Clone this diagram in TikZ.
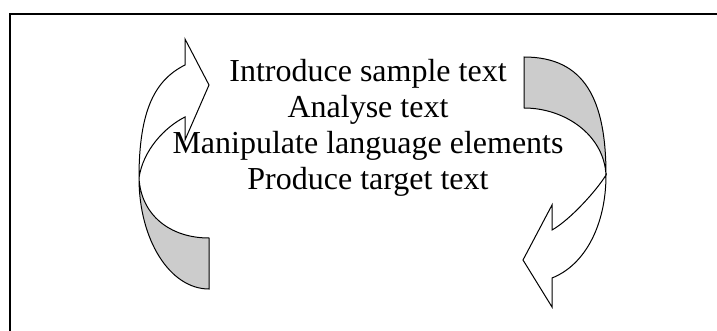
\documentclass[tikz,border=0pt]{standalone}
\usepackage{fontspec}
\setmainfont{Liberation Serif}
\begin{document}
\begin{tikzpicture}[x=1pt,y=-1pt,
  band/.style={draw=black,line width=1pt,line join=miter},
  front/.style={band,fill=white},
  back/.style={band,fill=black!20},
  frameline/.style={draw=black,line width=2pt},
  stepline/.style={font=\fontsize{32}{36}\selectfont,anchor=base,inner sep=0pt}]
\useasboundingbox (0,0) rectangle (717,331);
% frame
\draw[frameline] (9.5,332) -- (9.5,14) -- (718,14);
% text
\node[stepline] (l1) at (368,82) {Introduce sample text};
\node[stepline] (l2) at (368,118) {Analyse text};
\node[stepline] (l3) at (368,153.5) {Manipulate language elements};
\node[stepline] (l4) at (368,189.5) {Produce target text};
% left curved arrow
\coordinate (LT) at (139,178);
\path[back] (LT) .. controls (139,240) and (170,289) .. (209,289)
  -- (209,238) .. controls (170,238) and (141,215) .. (LT) -- cycle;
\path[front] (LT) .. controls (139,110) and (155,80) .. (185,65)
  -- (185,39) -- (209,85) -- (185,140) -- (185,117)
  .. controls (165,127) and (143,150) .. (LT) -- cycle;
% right curved arrow
\coordinate (RT) at (606,175);
\path[back] (524,57) .. controls (585,57) and (606,100) .. (RT)
  .. controls (604,135) and (565,108) .. (524,108) -- cycle;
\path[front] (RT) .. controls (606,225) and (585,265) .. (552,278)
  -- (552,307) -- (523,260) -- (552,205) -- (552,230)
  .. controls (570,220) and (597,190) .. (RT) -- cycle;
\end{tikzpicture}
\end{document}
